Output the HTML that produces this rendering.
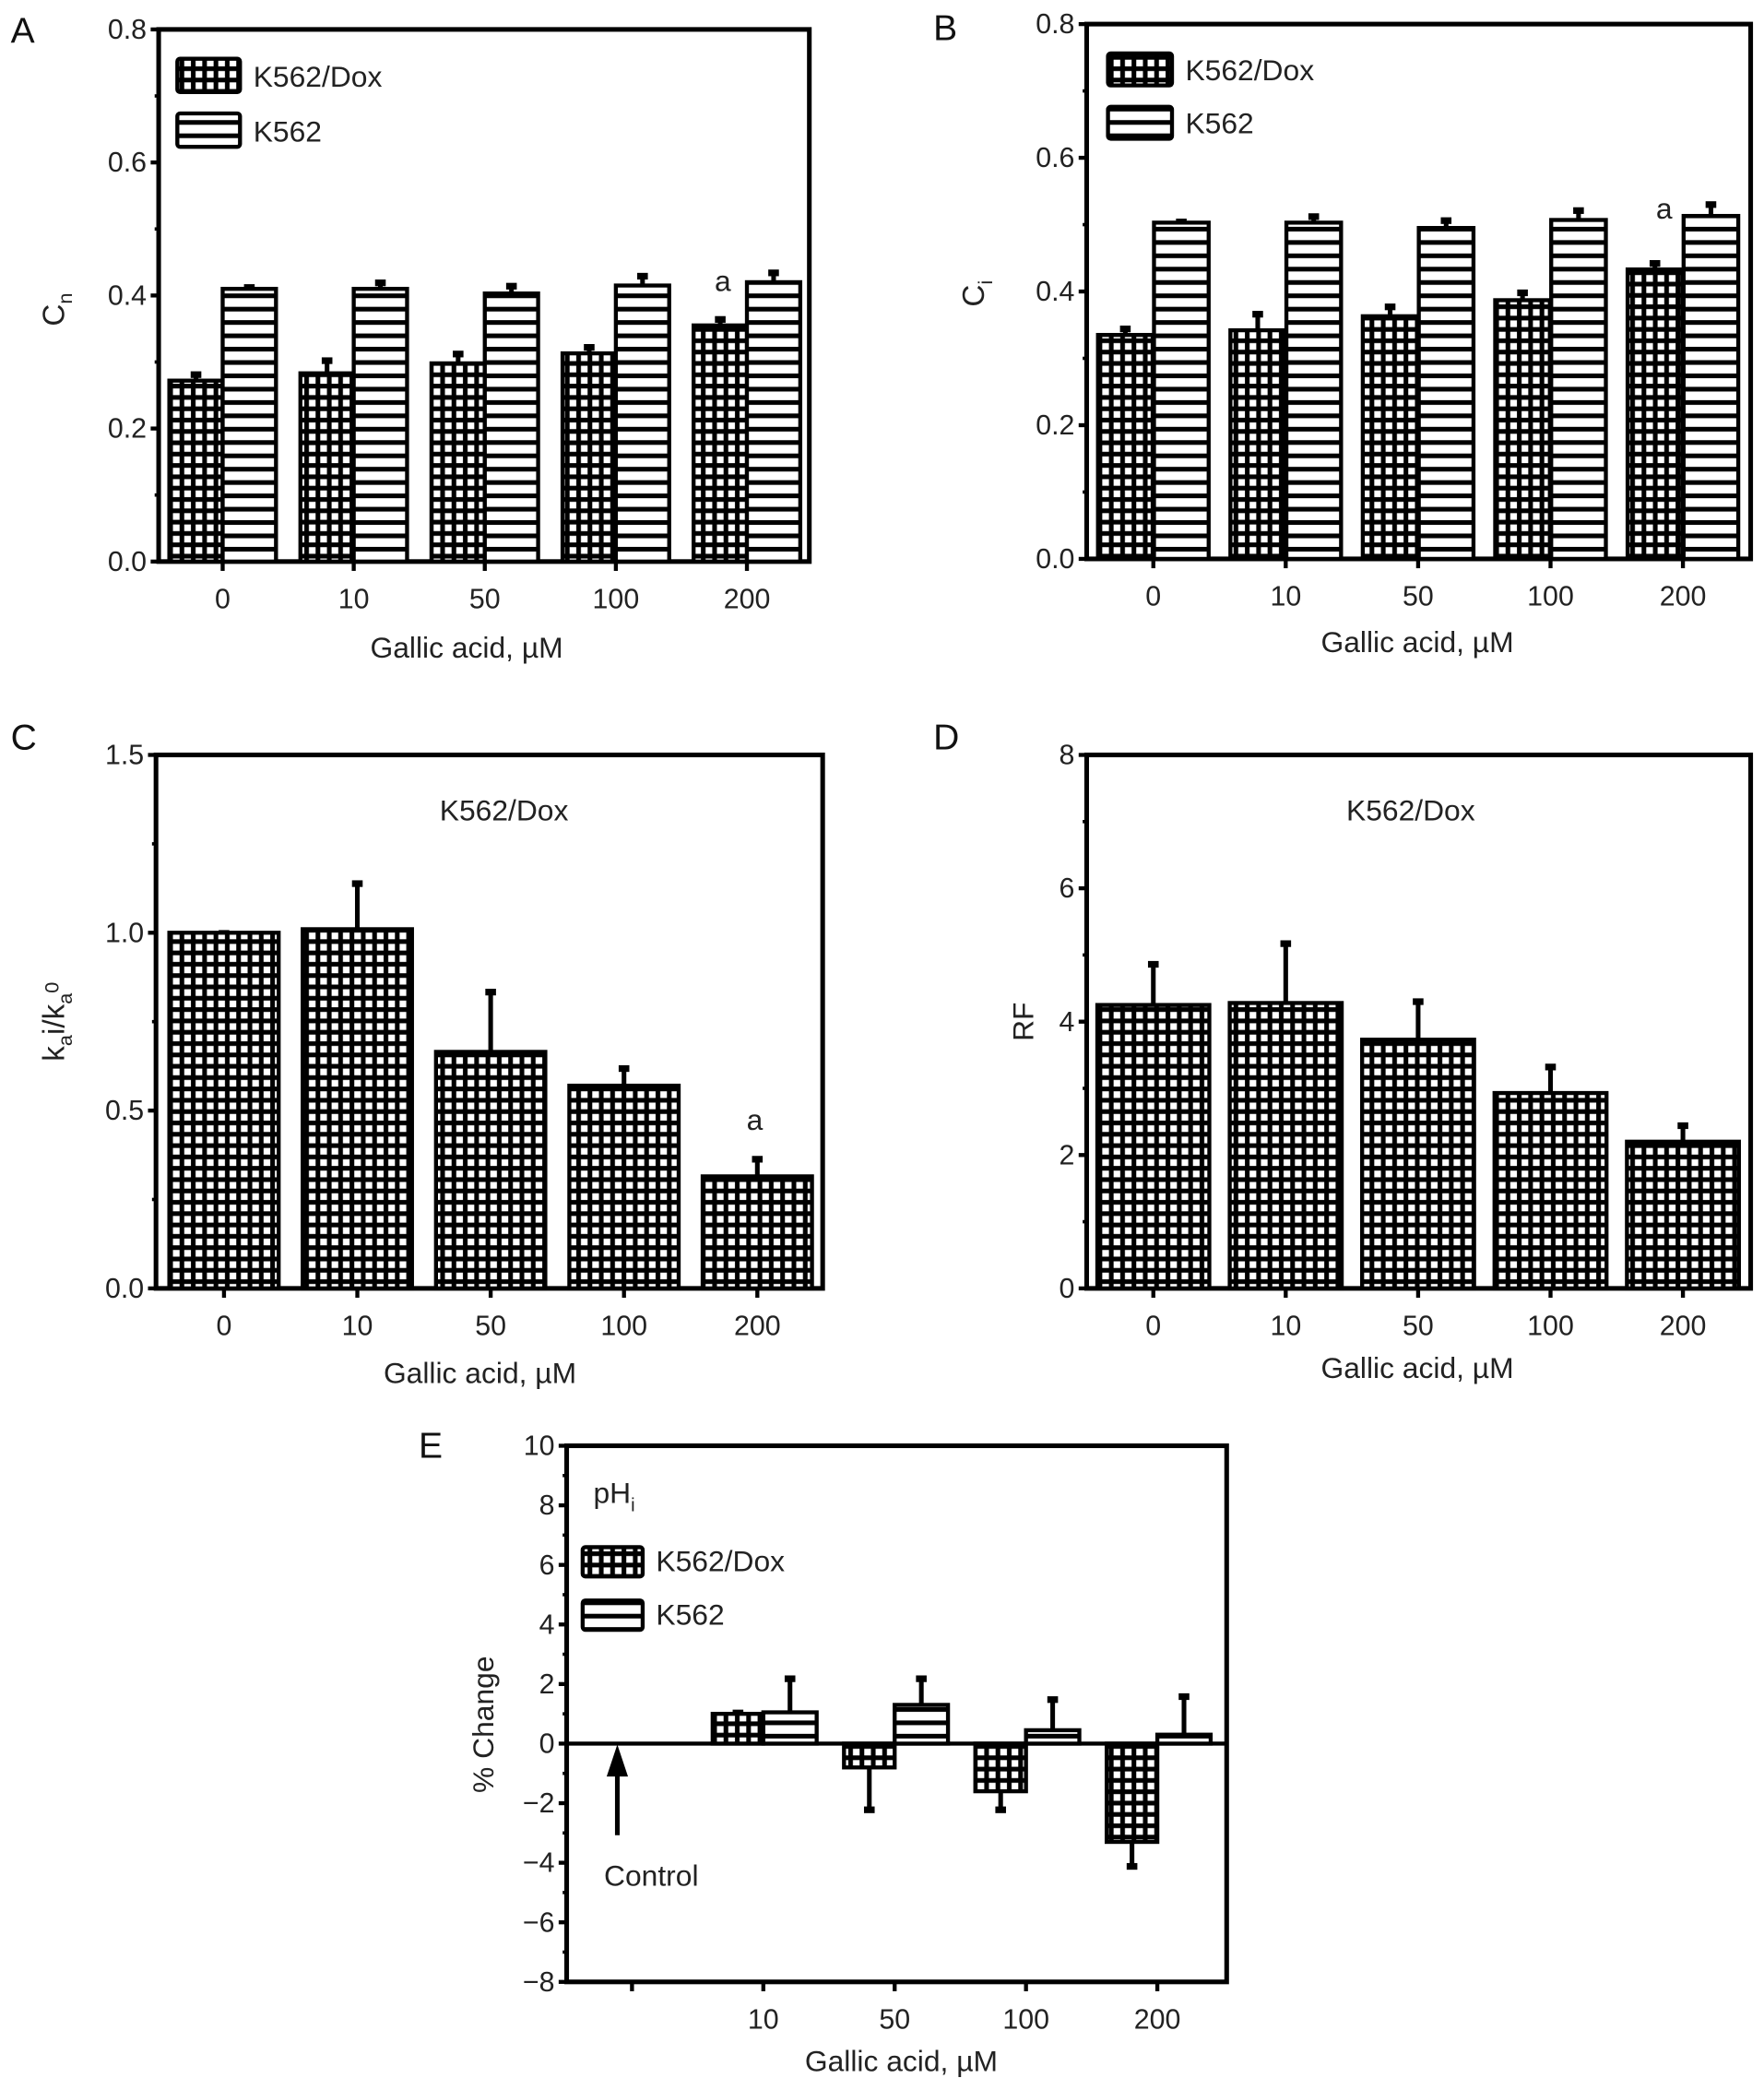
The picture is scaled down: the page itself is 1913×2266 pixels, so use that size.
<!DOCTYPE html>
<html><head><meta charset="utf-8">
<style>
html,body{margin:0;padding:0;background:#fff;}
svg{display:block;font-family:"Liberation Sans",Arial,sans-serif;}
</style></head>
<body>
<svg id="fig" width="1913" height="2266" viewBox="0 0 1323 1567" xmlns="http://www.w3.org/2000/svg">
<defs>
<pattern id="grid" patternUnits="userSpaceOnUse" width="8.5" height="8.5">
<rect width="8.5" height="8.5" fill="#000"/>
<rect x="2.2" y="2.2" width="5" height="5" fill="#fff"/>
</pattern>
<pattern id="stripe" patternUnits="userSpaceOnUse" width="10" height="10">
<rect width="10" height="10" fill="#fff"/>
<rect y="0" width="10" height="3.5" fill="#000"/>
</pattern>
</defs>
<g id="root"></g>
</svg>
<script>
// Panel A data
const catsAE = ["0","10","50","100","200"];
const aDox = [0.272,0.283,0.298,0.313,0.355];
const aDoxErr = [0.01,0.02,0.015,0.01,0.01];
const aK = [0.41,0.41,0.403,0.415,0.42];
const aKErr = [0.003,0.01,0.012,0.015,0.015];
const aTicks = ["0.0","0.2","0.4","0.6","0.8"];
// Panel B data
const bDox = [0.335,0.342,0.363,0.387,0.433];
const bDoxErr = [0.01,0.025,0.015,0.012,0.01];
const bK = [0.503,0.503,0.495,0.507,0.513];
const bKErr = [0.002,0.01,0.012,0.015,0.018];
const bTicks = ["0.0","0.2","0.4","0.6","0.8"];
// Panel C data
const cVals = [1.0,1.01,0.665,0.57,0.315];
const cErr = [0,0.13,0.17,0.05,0.05];
const cTicks = ["0.0","0.5","1.0","1.5"];
// Panel D data
const dVals = [4.25,4.28,3.73,2.93,2.2];
const dErr = [0.62,0.9,0.58,0.4,0.25];
const dTicks = ["0","2","4","6","8"];
// Panel E data
const eCats = ["10","50","100","200"];
const eDox = [1.0,-0.8,-1.6,-3.3];
const eDoxErr = [0.05,1.4,0.6,0.8];
const eK = [1.05,1.3,0.45,0.3];
const eKErr = [1.15,0.9,1.05,1.3];
const eTicks = ["−8","−6","−4","−2","0","2","4","6","8","10"];

const NS="http://www.w3.org/2000/svg";
const root=document.getElementById('root');
function el(tag,attrs,parent,text){
  const e=document.createElementNS(NS,tag);
  for(const k in attrs) e.setAttribute(k,attrs[k]);
  if(text!==undefined) e.textContent=text;
  (parent||root).appendChild(e);
  return e;
}
function panel(o){
  const g=el('g',{});
  
  
  const ys=v=>o.bottom-(v-o.ymin)/(o.ymax-o.ymin)*(o.bottom-o.top);
  const xs=i=>o.x0+i*o.step;
  const fr=el('rect',{x:o.left,y:o.top,width:o.right-o.left,height:o.bottom-o.top,fill:'none',stroke:'#000','stroke-width':3.5},g);
  
  
  o.ticks.forEach((t,i)=>{
    const v=o.ymin+i*o.tstep;const y=ys(v);
    el('line',{x1:o.left-6,x2:o.left,y1:y,y2:y,stroke:'#000','stroke-width':3},g);
    const tx=el('text',{x:o.left-9,y:y+7,'text-anchor':'end','font-size':21,fill:'#222'},g,t);
    
    
    if(i<o.ticks.length-1){const ym=ys(v+o.tstep/2);el('line',{x1:o.left-3,x2:o.left+1,y1:ym,y2:ym,stroke:'#000','stroke-width':2.5},g);}
  });
  const yz=ys(0);
  if(o.ymin<0){el('line',{x1:o.left,x2:o.right,y1:yz,y2:yz,stroke:'#000','stroke-width':3},g);}
  o.cats.forEach((c,i)=>{
    const x=xs(i+o.catOffset);
    el('line',{x1:x,x2:x,y1:o.bottom,y2:o.bottom+7,stroke:'#000','stroke-width':3},g);
    const tx=el('text',{x:x,y:o.bottom+35,'text-anchor':'middle','font-size':21,fill:'#222'},g,c);
    
    
  });
  const xt=el('text',{x:o.xtx,y:o.xty,'text-anchor':'middle','font-size':22,fill:'#222'},g,'Gallic acid, \u00B5M');
  
  
  const pl=el('text',{x:o.lx,y:o.ly,'font-size':27,fill:'#111'},g,o.letter);
  
  
  o.series.forEach(s=>{
    s.vals.forEach((v,i)=>{
      const cx=xs(i+o.catOffset)+s.off;
      const y1=ys(v);const top=Math.min(y1,yz),h=Math.abs(y1-yz);
      const ey=ys(v+(v>=0?s.err[i]:-s.err[i]));
      el('line',{x1:cx,x2:cx,y1:y1,y2:ey,stroke:'#000','stroke-width':3.5},g);
      el('rect',{x:cx-4,y:ey-2,width:8,height:5,fill:'#000'},g);
      const b=el('rect',{x:cx-s.w/2,y:top,width:s.w,height:h,fill:`url(#${s.pat})`,stroke:'#000','stroke-width':3},g);
      
      
    });
  });
  return g;
}
function text(x,y,s,size,name,anchor,rot){
  const t=el('text',{x:x,y:y,'font-size':size||22,fill:'#222','text-anchor':anchor||'start'});
  if(rot) t.setAttribute('transform',`rotate(-90 ${x} ${y})`);
  t.textContent=s;
  
  
  return t;
}
function legend(x,y,dy,w,h){
  const a=el('rect',{x:x,y:y,width:w,height:h,fill:'url(#grid)',stroke:'#000','stroke-width':3,rx:2});
  
  
  const b=el('rect',{x:x,y:y+dy,width:w,height:h,fill:'url(#stripe)',stroke:'#000','stroke-width':3,rx:2});
  
  
  text(x+w+10,y+h-4,'K562/Dox',22,'legend-entry-k562-dox');
  text(x+w+10,y+dy+h-4,'K562',22,'legend-entry-k562');
}
// A
panel({name:'panel-a',letter:'A',lx:8,ly:32,left:119,right:607,top:22,bottom:421,ymin:0,ymax:0.8,tstep:0.2,ticks:aTicks,cats:catsAE,x0:167,step:98.3,catOffset:0,xtx:350,xty:493,
 series:[{vals:aDox,err:aDoxErr,pat:'grid',off:-20,w:40,label:'k562-dox'},{vals:aK,err:aKErr,pat:'stripe',off:20,w:40,label:'k562'}]});
legend(133,44,41,47,25);
text(536,218,'a',22,'significance-a');
const cn=text(48,232,'C',23,'y-axis-title','middle',true);
el('tspan',{'font-size':15,dy:6},cn,'n');
// B
panel({name:'panel-b',letter:'B',lx:700,ly:30,left:815,right:1313,top:18,bottom:419,ymin:0,ymax:0.8,tstep:0.2,ticks:bTicks,cats:catsAE,x0:865,step:99.3,catOffset:0,xtx:1063,xty:489,
 series:[{vals:bDox,err:bDoxErr,pat:'grid',off:-21,w:41,label:'k562-dox'},{vals:bK,err:bKErr,pat:'stripe',off:21,w:41,label:'k562'}]});
legend(831,40,40,48,24);
text(1242,164,'a',22,'significance-a');
const ci=text(738,220,'C',23,'y-axis-title','middle',true);
el('tspan',{'font-size':15,dy:6},ci,'i');
// C
panel({name:'panel-c',letter:'C',lx:8,ly:562,left:117,right:617,top:566,bottom:966,ymin:0,ymax:1.5,tstep:0.5,ticks:cTicks,cats:catsAE,x0:168,step:100,catOffset:0,xtx:360,xty:1037,
 series:[{vals:cVals,err:cErr,pat:'grid',off:0,w:82,label:'k562-dox'}]});
text(378,615,'K562/Dox',22,'panel-subtitle','middle');
text(566,847,'a',22,'significance-a','middle');
const ka=text(48,766,'k',23,'y-axis-title','middle',true);
el('tspan',{'font-size':15,dy:6},ka,'a');
el('tspan',{dy:-6},ka,'i/k');
el('tspan',{'font-size':15,dy:6},ka,'a');
el('tspan',{'font-size':15,dy:-10},ka,'0');
// D
panel({name:'panel-d',letter:'D',lx:700,ly:562,left:815,right:1313,top:566,bottom:966,ymin:0,ymax:8,tstep:2,ticks:dTicks,cats:catsAE,x0:865,step:99.3,catOffset:0,xtx:1063,xty:1033,
 series:[{vals:dVals,err:dErr,pat:'grid',off:0,w:84,label:'k562-dox'}]});
text(1058,615,'K562/Dox',22,'panel-subtitle','middle');
text(775,766,'RF',22,'y-axis-title','middle',true);
// E
panel({name:'panel-e',letter:'E',lx:314,ly:1093,left:425,right:920,top:1084,bottom:1486,ymin:-8,ymax:10,tstep:2,ticks:eTicks,cats:eCats,x0:474,step:98.5,catOffset:1,xtx:676,xty:1553,
 series:[{vals:eDox,err:eDoxErr,pat:'grid',off:-19,w:38,label:'k562-dox'},{vals:eK,err:eKErr,pat:'stripe',off:20,w:40,label:'k562'}]});
el('line',{x1:474,x2:474,y1:1486,y2:1493,stroke:'#000','stroke-width':3});
legend(437,1160,40,45,22);
const ph=text(445,1127,'pH',22,'ph-label');
el('tspan',{'font-size':14,dy:6},ph,'i');
text(370,1293,'% Change',22,'y-axis-title','middle',true);
text(453,1414,'Control',22,'control-label');
const ar=el('g',{});


el('line',{x1:463,x2:463,y1:1376,y2:1325,stroke:'#000','stroke-width':3.5},ar);
el('polygon',{points:'463,1308 455,1332 471,1332',fill:'#000'},ar);
</script>
</body></html>
